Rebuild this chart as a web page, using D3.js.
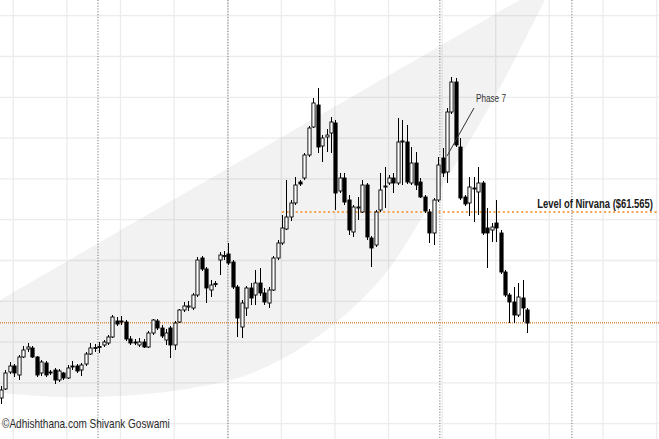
<!DOCTYPE html>
<html>
<head>
<meta charset="utf-8">
<script src="https://cdn.jsdelivr.net/npm/d3@7/dist/d3.min.js"></script>
<style>
  html, body { margin: 0; padding: 0; background: #ffffff; overflow: hidden; }
  svg { display: block; }
</style>
</head>
<body>
<div id="chart"></div>
<script>
// ---------------- DATA ----------------
const opens = [42.97,43.87,45.57,46.17,45.27,47.07,47.87,47.97,47.07,45.47,
  46.47,45.57,45.77,44.77,45.47,44.97,46.17,46.17,45.77,46.37,
  47.37,47.97,48.07,48.27,48.47,49.07,50.67,50.67,50.57,48.87,
  48.57,48.27,48.57,48.07,49.47,50.67,49.97,48.77,49.97,48.27,
  50.57,51.77,52.12,51.97,53.27,56.97,55.87,53.77,54.37,56.77,
  57.17,57.37,56.57,54.07,50.07,51.97,53.97,53.27,54.47,53.47,
  52.47,53.77,56.97,58.47,59.87,61.07,62.47,64.57,64.97,67.27,
  70.07,72.27,68.17,69.07,69.47,70.47,63.67,64.97,62.77,59.57,
  61.97,61.57,64.27,58.97,58.27,61.77,64.07,64.47,64.97,64.47,
  68.57,68.57,64.47,66.47,64.57,63.07,61.57,59.47,62.77,66.97,
  65.57,71.57,74.57,68.07,63.07,62.47,63.97,63.57,64.47,59.97,
  59.77,60.47,59.47,55.57,53.27,52.57,51.27,52.97,51.77];
const highs = [44.17,45.77,46.57,46.37,47.27,48.17,48.47,48.17,47.17,46.77,
  46.67,45.77,45.97,45.87,45.57,46.27,46.67,46.37,46.47,47.57,
  48.47,48.37,48.57,48.77,49.27,51.27,51.07,51.17,50.77,49.17,
  48.87,48.97,48.87,49.67,50.87,50.87,50.27,49.87,50.17,50.67,
  51.87,52.57,52.67,53.47,57.07,57.17,56.07,54.77,54.67,57.57,
  57.67,58.47,56.77,54.27,52.77,54.17,54.47,55.77,55.97,53.97,
  54.07,57.17,58.77,61.27,64.77,62.77,65.07,64.77,67.47,70.17,
  72.97,73.97,69.27,69.87,71.07,70.77,65.47,65.47,63.27,62.27,
  63.07,64.77,64.47,59.17,61.77,65.47,66.07,65.27,65.47,70.97,
  70.77,70.27,68.07,67.57,64.97,63.27,61.87,62.97,67.07,67.97,
  71.97,75.07,74.97,68.97,63.27,65.07,65.07,66.07,64.67,61.97,
  60.47,62.77,59.77,55.77,53.47,54.07,54.47,54.77,51.97];
const lows = [42.37,43.77,45.37,45.07,44.77,46.97,47.57,46.97,45.07,45.17,
  45.07,45.27,44.37,44.57,44.77,44.87,45.77,45.47,45.17,46.17,
  47.27,47.57,47.47,48.07,48.27,48.97,50.17,50.27,48.67,48.27,
  48.27,48.07,47.97,47.97,49.27,49.77,48.97,48.27,46.97,47.77,
  50.47,51.57,51.67,51.77,53.07,55.67,52.47,53.07,54.07,55.27,
  56.77,56.27,53.87,49.07,48.97,51.17,52.27,52.27,53.17,52.27,
  51.97,53.67,56.77,58.27,59.77,60.67,62.27,64.17,64.77,67.07,
  69.97,67.47,66.57,67.57,67.47,61.77,63.47,62.27,59.27,59.07,
  60.77,61.47,58.77,56.07,58.07,61.57,61.97,64.27,63.47,64.27,
  64.27,64.37,64.27,63.77,62.97,61.47,58.47,58.27,62.57,65.07,
  64.47,71.37,68.07,62.77,62.17,61.17,60.57,61.27,59.27,55.97,
  58.57,58.57,55.37,53.07,50.47,50.47,51.07,50.57,49.47];
const closes = [43.77,45.47,46.17,45.47,47.07,47.77,48.07,47.07,45.27,46.57,
  45.27,45.47,44.77,45.67,44.97,45.97,46.07,45.67,46.27,47.37,
  47.97,48.02,48.12,48.57,49.07,51.07,50.37,50.57,48.87,48.47,
  48.47,48.57,48.07,49.47,50.77,49.97,49.17,49.47,48.27,50.47,
  51.77,52.17,52.17,53.27,56.77,55.87,53.97,54.27,54.42,57.27,
  57.22,56.47,54.07,50.97,52.47,53.97,52.97,54.47,53.47,52.57,
  53.77,56.97,58.47,59.97,61.07,62.47,64.27,64.37,67.27,69.97,
  72.47,68.07,68.97,69.27,70.57,63.47,64.97,62.57,59.77,62.07,
  62.07,64.27,59.07,57.97,61.57,63.77,64.17,64.97,64.47,68.57,
  68.67,64.57,66.47,64.27,63.07,61.67,59.47,62.77,66.27,65.47,
  71.57,74.57,68.27,62.97,62.37,64.07,63.92,64.47,59.47,59.47,
  60.07,59.97,55.57,53.27,52.57,51.27,53.07,51.97,50.47];

const nirvanaLevel = 61.565;
const nirvanaStartIndex = 63;
const supportLevel = 50.5;
const gridPrices = [81.2,77.12,73.04,68.96,64.88,60.8,56.72,52.64,48.56,44.48,40.4];
const gridIndices = [2.75,14.77,26.79,38.81,50.83,62.85,74.87,86.89,98.91,110.93,122.95,134.97,146.99];
const separatorIndices = [21.75,50.9,98.4,128.0];
// crescent band: [index, price]
const bandUpper = [[-2.5,52.19],[60,68.3],[121,83.98]];
const bandLower = [[125.3,85.77],[121.97,82.77],[110.76,73.07],[101.8,66.27],[95.5,61.77],
  [85.0,54.77],[69.96,48.77],[55.16,45.27],[40.13,43.77],[26.68,43.17],[13.23,43.07],
  [-0.22,43.47],[-2.5,43.57]];
const phaseLabel = "Phase 7";
const phaseText = [106.5, 72.62];
const phaseLine = [[106.05,71.97],[100.0,67.17]];
const nirvanaLabel = "Level of Nirvana ($61.565)";
const watermark = "©Adhishthana.com Shivank Goswami";

// ---------------- CHART ----------------
const W = 659, H = 439;
const svg = d3.select("#chart").append("svg").attr("width", W).attr("height", H);

const x = d3.scaleLinear().domain([0, 118]).range([1, 1 + 118 * 4.46]);
const y = d3.scaleLinear().domain([38.87, 82.77]).range([439, 0]);

// grid
svg.append("g").selectAll("line").data(gridPrices).join("line")
  .attr("x1", 0).attr("x2", W)
  .attr("y1", d => y(d)).attr("y2", d => y(d))
  .attr("stroke", "#ececec").attr("stroke-width", 1.3);
svg.append("g").selectAll("line").data(gridIndices).join("line")
  .attr("y1", 0).attr("y2", H)
  .attr("x1", d => x(d)).attr("x2", d => x(d))
  .attr("stroke", "#ececec").attr("stroke-width", 1.3);

// band
const lineUp = d3.line().x(d => x(d[0])).y(d => y(d[1])).curve(d3.curveLinear);
const lineLo = d3.line().x(d => x(d[0])).y(d => y(d[1])).curve(d3.curveCatmullRom.alpha(0.5));
const bandPath = lineUp(bandUpper) + lineLo(bandLower).replace(/^M/, "L") + "Z";
svg.append("path").attr("d", bandPath).attr("fill", "rgba(0,0,0,0.05)").attr("stroke", "none");

// separators
svg.append("g").selectAll("line").data(separatorIndices).join("line")
  .attr("x1", d => x(d)).attr("x2", d => x(d))
  .attr("y1", 0).attr("y2", H)
  .attr("stroke", "#7a7a7a").attr("stroke-width", 1).attr("stroke-dasharray", "1.2,1.6");

// levels
svg.append("line")
  .attr("x1", 0).attr("x2", W)
  .attr("y1", y(supportLevel)).attr("y2", y(supportLevel))
  .attr("stroke", "#d9904a").attr("stroke-width", 1.5).attr("stroke-dasharray", "1,1");
svg.append("line")
  .attr("x1", x(nirvanaStartIndex)).attr("x2", W)
  .attr("y1", y(nirvanaLevel)).attr("y2", y(nirvanaLevel))
  .attr("stroke", "#f5a54f").attr("stroke-width", 2).attr("stroke-dasharray", "2,2.6");

// candles
const data = d3.range(opens.length).map(i => ({i, o: opens[i], h: highs[i], l: lows[i], c: closes[i]}));
const bw = 3.2;
const g = svg.append("g");
g.selectAll("line.wick").data(data).join("line").attr("class", "wick")
  .attr("x1", d => Math.round(x(d.i)) + 0.5).attr("x2", d => Math.round(x(d.i)) + 0.5)
  .attr("y1", d => y(d.h)).attr("y2", d => y(d.l))
  .attr("stroke", "#000").attr("stroke-width", 1);
g.selectAll("rect.body").data(data).join("rect").attr("class", "body")
  .attr("x", d => Math.round(x(d.i)) + 0.5 - bw / 2)
  .attr("width", bw)
  .attr("y", d => y(Math.max(d.o, d.c)))
  .attr("height", d => Math.max(1, Math.abs(y(d.o) - y(d.c))))
  .attr("fill", d => d.c >= d.o ? "#ffffff" : "#000000")
  .attr("stroke", "#000").attr("stroke-width", 0.9);

// fitted label helper: horizontally scales text to a target width
function fittedText(parent, str, px, py, targetW, anchor, attrs) {
  const grp = parent.append("g");
  const t = grp.append("text").attr("x", 0).attr("y", 0).attr("text-anchor", anchor).text(str);
  Object.entries(attrs).forEach(([k, v]) => t.attr(k, v));
  const natural = t.node().getComputedTextLength();
  const sx = natural > 0 ? targetW / natural : 1;
  grp.attr("transform", `translate(${px},${py}) scale(${sx},1)`);
  return grp;
}

// Phase 7 annotation
svg.append("line")
  .attr("x1", x(phaseLine[0][0])).attr("y1", y(phaseLine[0][1]))
  .attr("x2", x(phaseLine[1][0])).attr("y2", y(phaseLine[1][1]))
  .attr("stroke", "#333").attr("stroke-width", 1);
fittedText(svg, phaseLabel, x(phaseText[0]), y(phaseText[1]), 30, "start", {
  "font-family": "'Liberation Sans Narrow', 'Liberation Sans', sans-serif",
  "font-size": 11, "fill": "#333"
});

// Nirvana label
fittedText(svg, nirvanaLabel, 653, y(nirvanaLevel) - 4.5, 116, "end", {
  "font-family": "'Liberation Sans Narrow', 'Liberation Sans', sans-serif",
  "font-size": 12, "font-weight": 700, "fill": "#1a1a1a"
});

// watermark
fittedText(svg, watermark, 2, 428, 168, "start", {
  "font-family": "'Liberation Sans Narrow', 'Liberation Sans', sans-serif",
  "font-size": 12, "fill": "#2a2a2a"
});
</script>
</body>
</html>
